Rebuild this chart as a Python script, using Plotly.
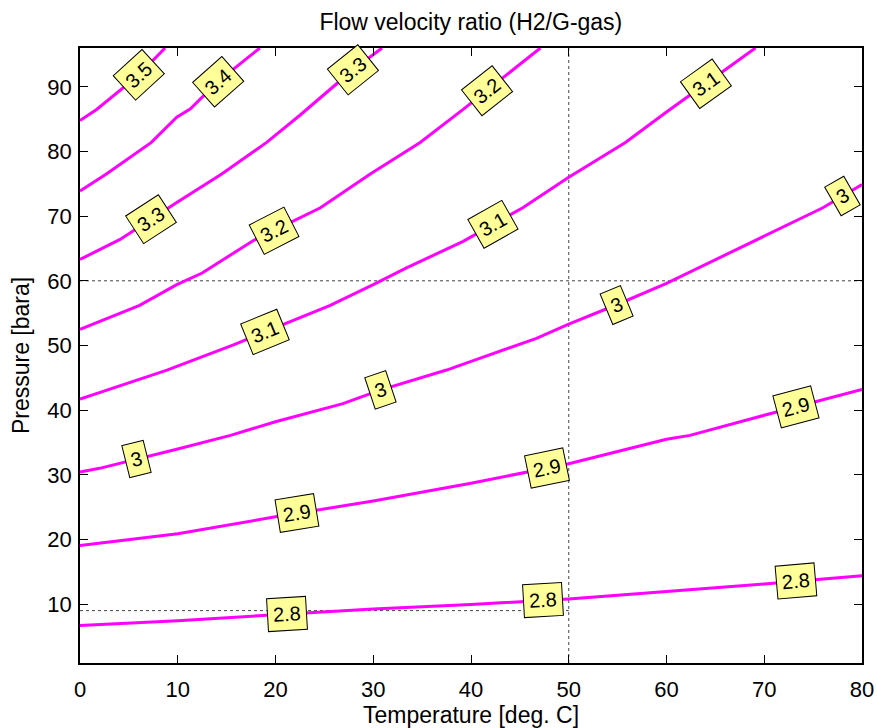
import math
import numpy as np
import plotly.graph_objects as go

# ---------------- data ----------------
levels = [2.8, 2.9, 3.0, 3.1, 3.2, 3.3, 3.4, 3.5]

T_28 = [0, 10, 20, 30, 40, 50, 60, 70, 80]
P_28 = [6.7, 7.45, 8.35, 9.25, 9.95, 10.8, 11.95, 13.1, 14.4]

T_29 = [0, 10, 20, 30, 40, 50, 60, 62.4, 70, 80]
P_29 = [19.05, 20.9, 23.5, 25.95, 28.7, 31.7, 35.5, 36.1, 39.2, 43.2]

T_30 = [0, 2, 10, 15.4, 20, 26.9, 30.7, 37.5, 40.3, 46.7, 50, 54.9, 60, 69.6, 76, 80]
P_30 = [30.45, 31, 34, 36.1, 38.2, 41, 43.1, 46.2, 47.7, 51.1, 53.3, 56.3, 59.6, 66.6, 71.3, 74.9]

T_31 = [0, 8.9, 15.7, 22.5, 25.6, 30, 33.4, 39.2, 45.3, 50, 55.8, 60, 66, 69.1]
P_31 = [41.7, 46.2, 50.1, 54.3, 56.2, 59.4, 62, 66.1, 71.3, 76, 81.4, 86.1, 92.6, 96]

T_32 = [0, 6.1, 9.9, 12.5, 17.7, 22.3, 24.6, 29.7, 34.8, 39.1, 44.3, 47.1]
P_32 = [52.5, 56.2, 59.4, 61.2, 66.2, 69.6, 71.3, 76.5, 81.4, 86.4, 92.6, 96]

T_33 = [0, 4.1, 9.9, 14.5, 19.1, 22.5, 27.9, 30.9]
P_33 = [63.3, 66.4, 72.1, 76.5, 81.4, 85.6, 92.6, 96]

T_34 = [0, 2.7, 7.3, 9.9, 11.3, 14.1, 18.4]
P_34 = [73.9, 76.5, 81.4, 85.3, 86.6, 90.8, 96]

T_35 = [0, 1.7, 6, 8.7]
P_35 = [84.8, 86.5, 91.8, 96]

# contour label positions (temperature along each contour)
label_T = {
    2.8: [21.2, 47.4, 73.2],
    2.9: [22.2, 47.8, 73.2],
    3.0: [5.8, 30.7, 54.9, 78.0],
    3.1: [18.9, 42.3, 64.0],
    3.2: [19.8, 41.6],
    3.3: [7.3, 27.9],
    3.4: [14.1],
    3.5: [6.0],
}

# reference (dotted) lines
ref_T = 50
ref_P_high = 60
ref_P_low = 9

x_ticks = list(range(0, 81, 10))
y_ticks = list(range(10, 91, 10))
x_range = [0, 80]
y_range = [0.9, 96]

# ---------------- figure ----------------
W, H = 877, 728
ML, MR, MT, MB = 80, 15.3, 48.3, 64.7
plot_w = W - ML - MR
plot_h = H - MT - MB
px_T = plot_w / (x_range[1] - x_range[0])
px_P = plot_h / (y_range[1] - y_range[0])

curves = {
    2.8: (T_28, P_28), 2.9: (T_29, P_29), 3.0: (T_30, P_30), 3.1: (T_31, P_31),
    3.2: (T_32, P_32), 3.3: (T_33, P_33), 3.4: (T_34, P_34), 3.5: (T_35, P_35),
}

MAGENTA = "#FF00FF"
FONT = "Liberation Sans, Arial, sans-serif"

fig = go.Figure()

# dotted reference lines
dot = dict(color="#444444", width=1, dash="dot")
fig.add_trace(go.Scatter(x=[ref_T, ref_T], y=y_range, mode="lines", line=dot,
                         hoverinfo="skip", showlegend=False))
fig.add_trace(go.Scatter(x=x_range, y=[ref_P_high, ref_P_high], mode="lines", line=dot,
                         hoverinfo="skip", showlegend=False))
fig.add_trace(go.Scatter(x=[x_range[0], ref_T], y=[ref_P_low, ref_P_low], mode="lines", line=dot,
                         hoverinfo="skip", showlegend=False))

for lev in levels:
    T, P = curves[lev]
    fig.add_trace(go.Scatter(x=T, y=P, mode="lines",
                             line=dict(color=MAGENTA, width=3),
                             name=f"{lev:g}", showlegend=False))

annotations = []
for lev in levels:
    T, P = curves[lev]
    for t in label_T[lev]:
        p = float(np.interp(t, T, P))
        t0, t1 = max(t - 3, T[0]), min(t + 3, T[-1])
        p0, p1 = np.interp(t0, T, P), np.interp(t1, T, P)
        ang = -math.degrees(math.atan2((p1 - p0) * px_P, (t1 - t0) * px_T))
        annotations.append(dict(
            x=t, y=p, xref="x", yref="y", text=f"{lev:g}", showarrow=False,
            textangle=ang, font=dict(family=FONT, size=20, color="black"),
            bgcolor="#FFFF99", bordercolor="black", borderwidth=1, borderpad=5,
            xanchor="center", yanchor="middle"))

fig.update_layout(
    width=W, height=H,
    margin=dict(l=ML, r=MR, t=MT, b=MB, autoexpand=False),
    paper_bgcolor="white", plot_bgcolor="white",
    title=dict(text="Flow velocity ratio (H2/G-gas)", x=(ML + plot_w / 2) / W,
               xanchor="center", y=1 - 22 / H, yanchor="middle",
               font=dict(family=FONT, size=23, color="black")),
    annotations=annotations,
    showlegend=False,
)
axis_common = dict(
    showgrid=False, zeroline=False, showline=True, linecolor="black", linewidth=1.5,
    mirror="ticks", ticks="inside", ticklen=8, tickcolor="black", tickwidth=1,
    tickfont=dict(family=FONT, size=22, color="black"), automargin=False,
    ticklabeloverflow="allow",
)
fig.update_xaxes(range=x_range, tickvals=x_ticks, ticklabelstandoff=6,
                 title=dict(text="Temperature [deg. C]", standoff=6,
                            font=dict(family=FONT, size=23, color="black")),
                 **axis_common)
fig.update_yaxes(range=y_range, tickvals=y_ticks, ticklabelstandoff=2,
                 title=dict(text="Pressure [bara]", standoff=11,
                            font=dict(family=FONT, size=23, color="black")),
                 **axis_common)

fig.write_html("out.html")
